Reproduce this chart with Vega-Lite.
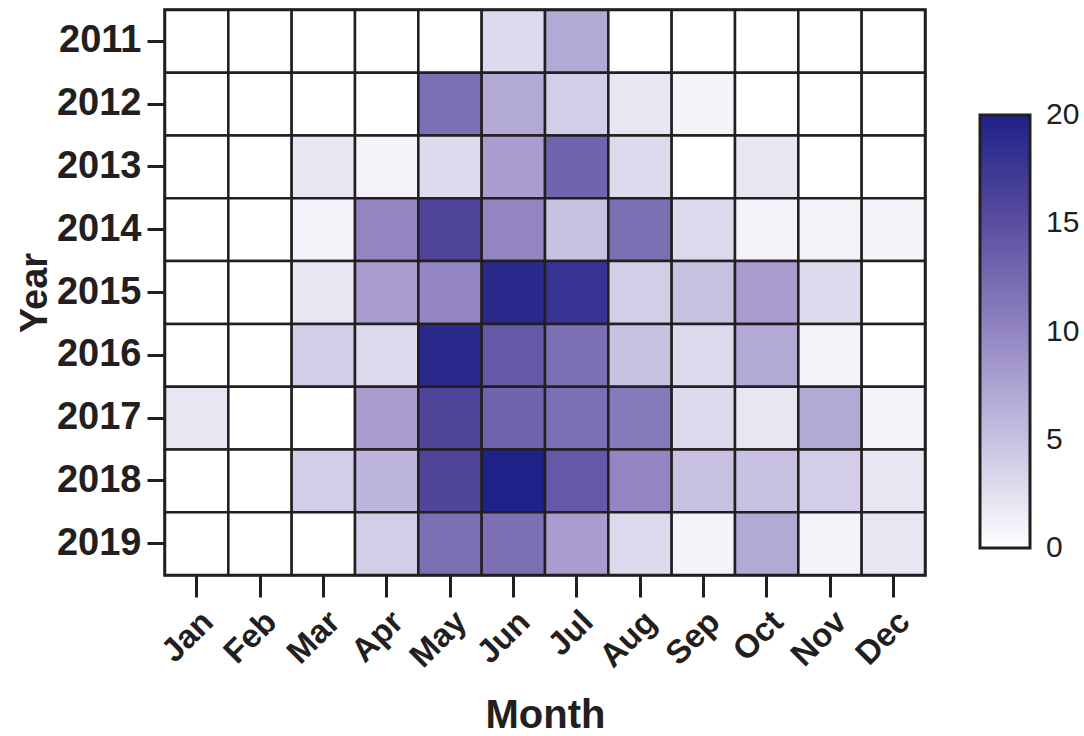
{
  "$schema": "https://vega.github.io/schema/vega-lite/v6.json",
  "autosize": "none",
  "width": 760,
  "height": 565,
  "padding": {"left": 165, "top": 10, "right": 159, "bottom": 161},
  "background": "white",
  "config": {
    "view": {"stroke": "#231f20", "strokeWidth": 3.5},
    "font": "Liberation Sans"
  },
  "data": {
    "values": [
      {"Year": "2011", "Month": "Jan", "v": 0}, {"Year": "2011", "Month": "Feb", "v": 0}, {"Year": "2011", "Month": "Mar", "v": 0}, {"Year": "2011", "Month": "Apr", "v": 0}, {"Year": "2011", "Month": "May", "v": 0}, {"Year": "2011", "Month": "Jun", "v": 3}, {"Year": "2011", "Month": "Jul", "v": 7}, {"Year": "2011", "Month": "Aug", "v": 0}, {"Year": "2011", "Month": "Sep", "v": 0}, {"Year": "2011", "Month": "Oct", "v": 0}, {"Year": "2011", "Month": "Nov", "v": 0}, {"Year": "2011", "Month": "Dec", "v": 0},
      {"Year": "2012", "Month": "Jan", "v": 0}, {"Year": "2012", "Month": "Feb", "v": 0}, {"Year": "2012", "Month": "Mar", "v": 0}, {"Year": "2012", "Month": "Apr", "v": 0}, {"Year": "2012", "Month": "May", "v": 12}, {"Year": "2012", "Month": "Jun", "v": 7}, {"Year": "2012", "Month": "Jul", "v": 4}, {"Year": "2012", "Month": "Aug", "v": 2}, {"Year": "2012", "Month": "Sep", "v": 1}, {"Year": "2012", "Month": "Oct", "v": 0}, {"Year": "2012", "Month": "Nov", "v": 0}, {"Year": "2012", "Month": "Dec", "v": 0},
      {"Year": "2013", "Month": "Jan", "v": 0}, {"Year": "2013", "Month": "Feb", "v": 0}, {"Year": "2013", "Month": "Mar", "v": 2}, {"Year": "2013", "Month": "Apr", "v": 1}, {"Year": "2013", "Month": "May", "v": 3}, {"Year": "2013", "Month": "Jun", "v": 8}, {"Year": "2013", "Month": "Jul", "v": 13}, {"Year": "2013", "Month": "Aug", "v": 3}, {"Year": "2013", "Month": "Sep", "v": 0}, {"Year": "2013", "Month": "Oct", "v": 2}, {"Year": "2013", "Month": "Nov", "v": 0}, {"Year": "2013", "Month": "Dec", "v": 0},
      {"Year": "2014", "Month": "Jan", "v": 0}, {"Year": "2014", "Month": "Feb", "v": 0}, {"Year": "2014", "Month": "Mar", "v": 1}, {"Year": "2014", "Month": "Apr", "v": 10}, {"Year": "2014", "Month": "May", "v": 16}, {"Year": "2014", "Month": "Jun", "v": 10}, {"Year": "2014", "Month": "Jul", "v": 5}, {"Year": "2014", "Month": "Aug", "v": 12}, {"Year": "2014", "Month": "Sep", "v": 3}, {"Year": "2014", "Month": "Oct", "v": 1}, {"Year": "2014", "Month": "Nov", "v": 1}, {"Year": "2014", "Month": "Dec", "v": 1},
      {"Year": "2015", "Month": "Jan", "v": 0}, {"Year": "2015", "Month": "Feb", "v": 0}, {"Year": "2015", "Month": "Mar", "v": 2}, {"Year": "2015", "Month": "Apr", "v": 8}, {"Year": "2015", "Month": "May", "v": 10}, {"Year": "2015", "Month": "Jun", "v": 19}, {"Year": "2015", "Month": "Jul", "v": 18}, {"Year": "2015", "Month": "Aug", "v": 4}, {"Year": "2015", "Month": "Sep", "v": 5}, {"Year": "2015", "Month": "Oct", "v": 8}, {"Year": "2015", "Month": "Nov", "v": 3}, {"Year": "2015", "Month": "Dec", "v": 0},
      {"Year": "2016", "Month": "Jan", "v": 0}, {"Year": "2016", "Month": "Feb", "v": 0}, {"Year": "2016", "Month": "Mar", "v": 4}, {"Year": "2016", "Month": "Apr", "v": 3}, {"Year": "2016", "Month": "May", "v": 19}, {"Year": "2016", "Month": "Jun", "v": 14}, {"Year": "2016", "Month": "Jul", "v": 12}, {"Year": "2016", "Month": "Aug", "v": 5}, {"Year": "2016", "Month": "Sep", "v": 3}, {"Year": "2016", "Month": "Oct", "v": 7}, {"Year": "2016", "Month": "Nov", "v": 1}, {"Year": "2016", "Month": "Dec", "v": 0},
      {"Year": "2017", "Month": "Jan", "v": 2}, {"Year": "2017", "Month": "Feb", "v": 0}, {"Year": "2017", "Month": "Mar", "v": 0}, {"Year": "2017", "Month": "Apr", "v": 8}, {"Year": "2017", "Month": "May", "v": 16}, {"Year": "2017", "Month": "Jun", "v": 13}, {"Year": "2017", "Month": "Jul", "v": 12}, {"Year": "2017", "Month": "Aug", "v": 11}, {"Year": "2017", "Month": "Sep", "v": 3}, {"Year": "2017", "Month": "Oct", "v": 2}, {"Year": "2017", "Month": "Nov", "v": 7}, {"Year": "2017", "Month": "Dec", "v": 1},
      {"Year": "2018", "Month": "Jan", "v": 0}, {"Year": "2018", "Month": "Feb", "v": 0}, {"Year": "2018", "Month": "Mar", "v": 4}, {"Year": "2018", "Month": "Apr", "v": 6}, {"Year": "2018", "Month": "May", "v": 16}, {"Year": "2018", "Month": "Jun", "v": 20}, {"Year": "2018", "Month": "Jul", "v": 14}, {"Year": "2018", "Month": "Aug", "v": 10}, {"Year": "2018", "Month": "Sep", "v": 5}, {"Year": "2018", "Month": "Oct", "v": 5}, {"Year": "2018", "Month": "Nov", "v": 4}, {"Year": "2018", "Month": "Dec", "v": 2},
      {"Year": "2019", "Month": "Jan", "v": 0}, {"Year": "2019", "Month": "Feb", "v": 0}, {"Year": "2019", "Month": "Mar", "v": 0}, {"Year": "2019", "Month": "Apr", "v": 4}, {"Year": "2019", "Month": "May", "v": 12}, {"Year": "2019", "Month": "Jun", "v": 12}, {"Year": "2019", "Month": "Jul", "v": 8}, {"Year": "2019", "Month": "Aug", "v": 3}, {"Year": "2019", "Month": "Sep", "v": 1}, {"Year": "2019", "Month": "Oct", "v": 7}, {"Year": "2019", "Month": "Nov", "v": 1}, {"Year": "2019", "Month": "Dec", "v": 2}
    ]
  },
  "mark": {"type": "rect", "stroke": "#231f20", "strokeWidth": 2.5},
  "encoding": {
    "x": {
      "field": "Month", "type": "ordinal",
      "sort": ["Jan","Feb","Mar","Apr","May","Jun","Jul","Aug","Sep","Oct","Nov","Dec"],
      "scale": {"paddingInner": 0, "paddingOuter": 0},
      "axis": {
        "title": "Month", "titleFontSize": 40, "titleFontWeight": "bold", "titleColor": "#231f20", "titlePadding": 22,
        "labelAngle": -45, "labelFontSize": 33, "labelFontWeight": "bold", "labelColor": "#231f20", "labelPadding": 8,
        "domain": false, "tickSize": 22, "tickWidth": 3, "tickColor": "#231f20"
      }
    },
    "y": {
      "field": "Year", "type": "ordinal",
      "scale": {"paddingInner": 0, "paddingOuter": 0},
      "axis": {
        "title": "Year", "titleFontSize": 38, "titleFontWeight": "bold", "titleColor": "#231f20", "titlePadding": 2,
        "labelFontSize": 38, "labelFontWeight": "bold", "labelColor": "#231f20", "labelPadding": 6,
        "domain": false, "tickSize": 18, "tickWidth": 3, "tickColor": "#231f20"
      }
    },
    "color": {
      "field": "v", "type": "quantitative",
      "scale": {"domain": [0, 5, 10, 15, 20], "range": ["#ffffff", "#c8c1e1", "#9285c2", "#5a4ea0", "#1e2188"], "interpolate": "rgb"},
      "legend": {
        "title": null, "orient": "none", "legendX": 815, "legendY": 105, "direction": "vertical",
        "gradientLength": 433, "gradientThickness": 50, "gradientStrokeColor": "#231f20", "gradientStrokeWidth": 3,
        "values": [0, 5, 10, 15, 20], "labelFontSize": 30, "labelColor": "#231f20", "labelOffset": 16,
        "labelOverlap": false,
        "encode": {"labels": {"update": {"baseline": {"value": "middle"}}}}
      }
    }
  }
}
